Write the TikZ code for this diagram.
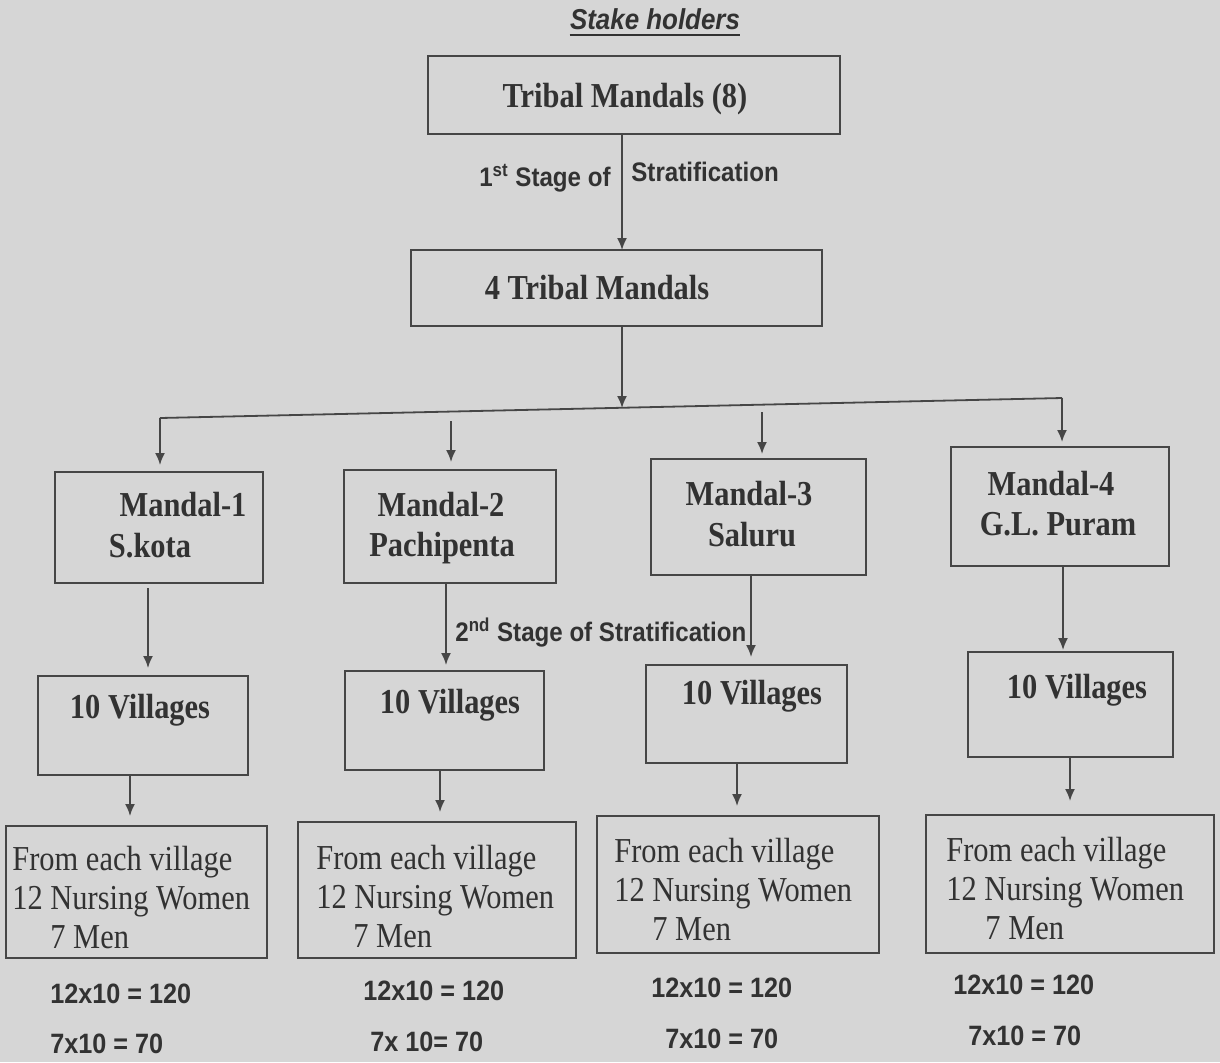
\documentclass[tikz,border=0pt]{standalone}
\usepackage{fontspec}
\setmainfont{Liberation Serif}
\newfontfamily\serifc[FakeStretch=0.87]{Liberation Serif}
\newfontfamily\sansc[FakeStretch=0.9]{Liberation Sans}
\usetikzlibrary{arrows.meta}
\definecolor{bg}{RGB}{214,214,214}
\definecolor{ink}{RGB}{50,50,50}
\definecolor{linec}{RGB}{70,70,70}
\newcommand\mkbox[5]{\node[boxs, minimum width={(#4-#2)*0.5pt}, minimum height={(#5-#3)*0.5pt}] (#1) at ({(#2+#4)/2},{(#3+#5)/2}) {};}
\tikzset{
  boxs/.style={draw=linec, line width=0.9pt, inner sep=0pt, outer sep=0pt},
  ln/.style={draw=linec, line width=0.9pt},
  arr/.style={draw=linec, line width=0.9pt, -{Latex[length=6pt,width=5pt]}},
  bt/.style={font=\serifc\bfseries\fontsize{17.5}{19.5}\selectfont, text=ink, inner sep=0pt, text height=11.6pt, text depth=0pt},
  rt/.style={font=\serifc\fontsize{17.5}{19.5}\selectfont, text=ink, inner sep=0pt, align=left, anchor=north west},
  st/.style={font=\sansc\bfseries\fontsize{14}{16}\selectfont, text=ink, inner sep=0pt, text height=10pt, text depth=0pt, anchor=west},
  lt/.style={font=\sansc\bfseries\fontsize{13.4}{15}\selectfont, text=ink, inner sep=0pt, text height=9.6pt, text depth=0pt}
}
\begin{document}
\begin{tikzpicture}[x=0.5pt,y=-0.5pt]
\fill[bg] (0,0) rectangle (1220,1062);
\useasboundingbox (0,0) rectangle (1220,1062);
% title
\node[font=\sansc\bfseries\itshape\fontsize{14.4}{16}\selectfont, text=ink, inner sep=0pt, text height=10.3pt, text depth=2.5pt] (title) at (655,22) {Stake holders};
\draw[ink, line width=1pt] (title.south west) -- (title.south east);
% boxes
\mkbox{t}{428}{56}{840}{134}
\mkbox{tm}{411}{250}{822}{326}
\mkbox{m1}{55}{472}{263}{583}
\mkbox{m2}{344}{470}{556}{583}
\mkbox{m3}{651}{459}{866}{575}
\mkbox{m4}{951}{447}{1169}{566}
\mkbox{v1}{38}{676}{248}{775}
\mkbox{v2}{345}{671}{544}{770}
\mkbox{v3}{646}{665}{847}{763}
\mkbox{v4}{968}{652}{1173}{757}
\mkbox{b1}{6}{826}{267}{958}
\mkbox{b2}{298}{822}{576}{958}
\mkbox{b3}{597}{816}{879}{953}
\mkbox{b4}{926}{815}{1214}{953}
% box texts
\node[bt] (tt) at (625,96) {Tribal Mandals (8)};
\node[bt] (ttm) at (597,288) {4 Tribal Mandals};
\node[bt] (m1a) at (183,505) {Mandal-1};
\node[bt] (m1b) at (150,546) {S.kota};
\node[bt] (m2a) at (441,505) {Mandal-2};
\node[bt] (m2b) at (442,545) {Pachipenta};
\node[bt] (m3a) at (749,494) {Mandal-3};
\node[bt] (m3b) at (752,535) {Saluru};
\node[bt] (m4a) at (1051,484) {Mandal-4};
\node[bt] (m4b) at (1058,524) {G.L. Puram};
\node[bt] (v1t) at (140,707) {10 Villages};
\node[bt] (v2t) at (450,702) {10 Villages};
\node[bt] (v3t) at (752,693) {10 Villages};
\node[bt] (v4t) at (1077,687) {10 Villages};
\node[rt] (b1t) at (12,846) {From each village\\12 Nursing Women\\\hspace*{19pt}7 Men};
\node[rt] (b2t) at (316,845) {From each village\\12 Nursing Women\\\hspace*{18.5pt}7 Men};
\node[rt] (b3t) at (614,838) {From each village\\12 Nursing Women\\\hspace*{19pt}7 Men};
\node[rt] (b4t) at (946,837) {From each village\\12 Nursing Women\\\hspace*{19.5pt}7 Men};
% stage labels
\node[lt, anchor=east] (s1a) at (611,177) {1\textsuperscript{st} Stage of};
\node[lt, anchor=west] (s1b) at (631,172) {Stratification};
\node[lt, anchor=west] (s2) at (455,632) {2\textsuperscript{nd} Stage of Stratification};
% totals
\node[st] (c1a) at (50,993) {12x10 = 120};
\node[st] (c1b) at (50,1043) {7x10 = 70};
\node[st] (c2a) at (363,990) {12x10 = 120};
\node[st] (c2b) at (370,1041) {7x 10= 70};
\node[st] (c3a) at (651,987) {12x10 = 120};
\node[st] (c3b) at (665,1038) {7x10 = 70};
\node[st] (c4a) at (953,984) {12x10 = 120};
\node[st] (c4b) at (968,1035) {7x10 = 70};
% connectors
\coordinate (hm) at (622,408);
\coordinate (hl) at (160,418);
\coordinate (hr) at (1062,398);
\coordinate (d2) at (451,421);
\coordinate (d3) at (762,412);
\draw[arr] (622,0 |- t.south) -- (622,0 |- tm.north);
\draw[arr] (622,0 |- tm.south) -- (hm);
\draw[ln] (hl) -- (hr);
\draw[arr, shorten >=3.5pt] (hl) -- (160,0 |- m1.north);
\draw[arr, shorten >=4pt] (d2) -- (451,0 |- m2.north);
\draw[arr, shorten >=2.5pt] (d3) -- (762,0 |- m3.north);
\draw[arr, shorten >=2.5pt] (hr) -- (1062,0 |- m4.north);
\draw[arr, shorten <=2.5pt, shorten >=4pt] (148,0 |- m1.south) -- (148,0 |- v1.north);
\draw[arr, shorten >=3pt] (446,0 |- m2.south) -- (446,0 |- v2.north);
\draw[arr, shorten >=4pt] (751,0 |- m3.south) -- (751,0 |- v3.north);
\draw[arr, shorten >=1pt] (1063,0 |- m4.south) -- (1063,0 |- v4.north);
\draw[arr, shorten >=5pt] (130,0 |- v1.south) -- (130,0 |- b1.north);
\draw[arr, shorten >=5pt] (440,0 |- v2.south) -- (440,0 |- b2.north);
\draw[arr, shorten >=5pt] (737,0 |- v3.south) -- (737,0 |- b3.north);
\draw[arr, shorten >=7pt] (1070,0 |- v4.south) -- (1070,0 |- b4.north);
\end{tikzpicture}
\end{document}
